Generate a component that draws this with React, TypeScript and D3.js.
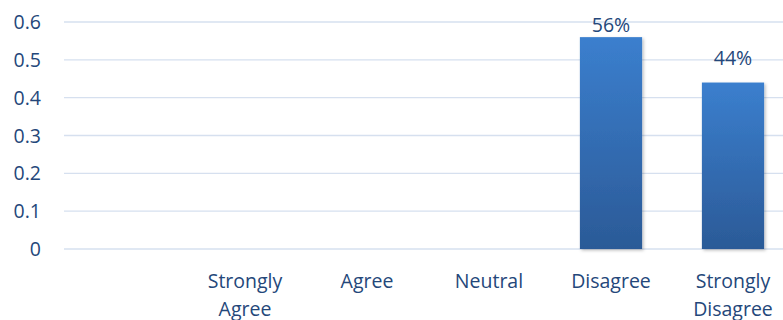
import React from "react";
import * as d3 from "d3";

const categories = ["", "Strongly Agree", "Agree", "Neutral", "Disagree", "Strongly Disagree"];
const values: (number | null)[] = [null, null, null, null, 0.56, 0.44];
const labels = ["", "", "", "", "56%", "44%"];
const yTicks = [0, 0.1, 0.2, 0.3, 0.4, 0.5, 0.6];

const W = 783;
const H = 320;
const TEXT = "#24477a";
const FONT = "'Open Sans', sans-serif";
const FS = 19.5;

export default function App() {
  const x = d3.scaleBand<string>().domain(categories.map((c, i) => String(i))).range([62, 794]).paddingInner(0.49).paddingOuter(0.245);
  const y = d3.scaleLinear().domain([0, 0.6]).range([249, 22]);
  const bw = x.bandwidth();
  return (
    <svg width={W} height={H} style={{ position: "absolute", left: 0, top: 0, background: "#fff" }}>
      <defs>
        <linearGradient id="barg" x1="0" y1="0" x2="0" y2="1">
          <stop offset="0" stopColor="#3b7fce" />
          <stop offset="1" stopColor="#2b5a97" />
        </linearGradient>
        <filter id="sh" x="-20%" y="-10%" width="140%" height="120%">
          <feDropShadow dx="1.5" dy="1.5" stdDeviation="1.5" floodColor="#000" floodOpacity="0.25" />
        </filter>
      </defs>
      {yTicks.map((t) => (
        <g key={t}>
          <line x1={64} x2={W} y1={y(t)} y2={y(t)} stroke="#d6e0ef" strokeWidth={1.3} />
          <text x={41} y={y(t)} dy="0.36em" textAnchor="end" fontFamily={FONT} fontSize={FS} fill={TEXT}>
            {String(t)}
          </text>
        </g>
      ))}
      {values.map((v, i) =>
        v == null ? null : (
          <rect key={i} x={x(String(i))!} y={y(v)} width={bw} height={y(0) - y(v)} fill="url(#barg)" filter="url(#sh)" />
        )
      )}
      {values.map((v, i) =>
        v == null ? null : (
          <text key={"l" + i} x={x(String(i))! + bw / 2} y={Math.max(y(v) - 18, 32)} textAnchor="middle" fontFamily={FONT} fontSize={FS} fill={TEXT}>
            {labels[i]}
          </text>
        )
      )}
      {categories.map((c, i) => {
        const words = c.split(" ");
        const cx = x(String(i))! + bw / 2;
        return (
          <text key={"c" + i} x={cx} y={288} textAnchor="middle" fontFamily={FONT} fontSize={FS} fill={TEXT}>
            {words.map((w, j) => (
              <tspan key={j} x={cx} dy={j === 0 ? 0 : 28}>
                {w}
              </tspan>
            ))}
          </text>
        );
      })}
    </svg>
  );
}
